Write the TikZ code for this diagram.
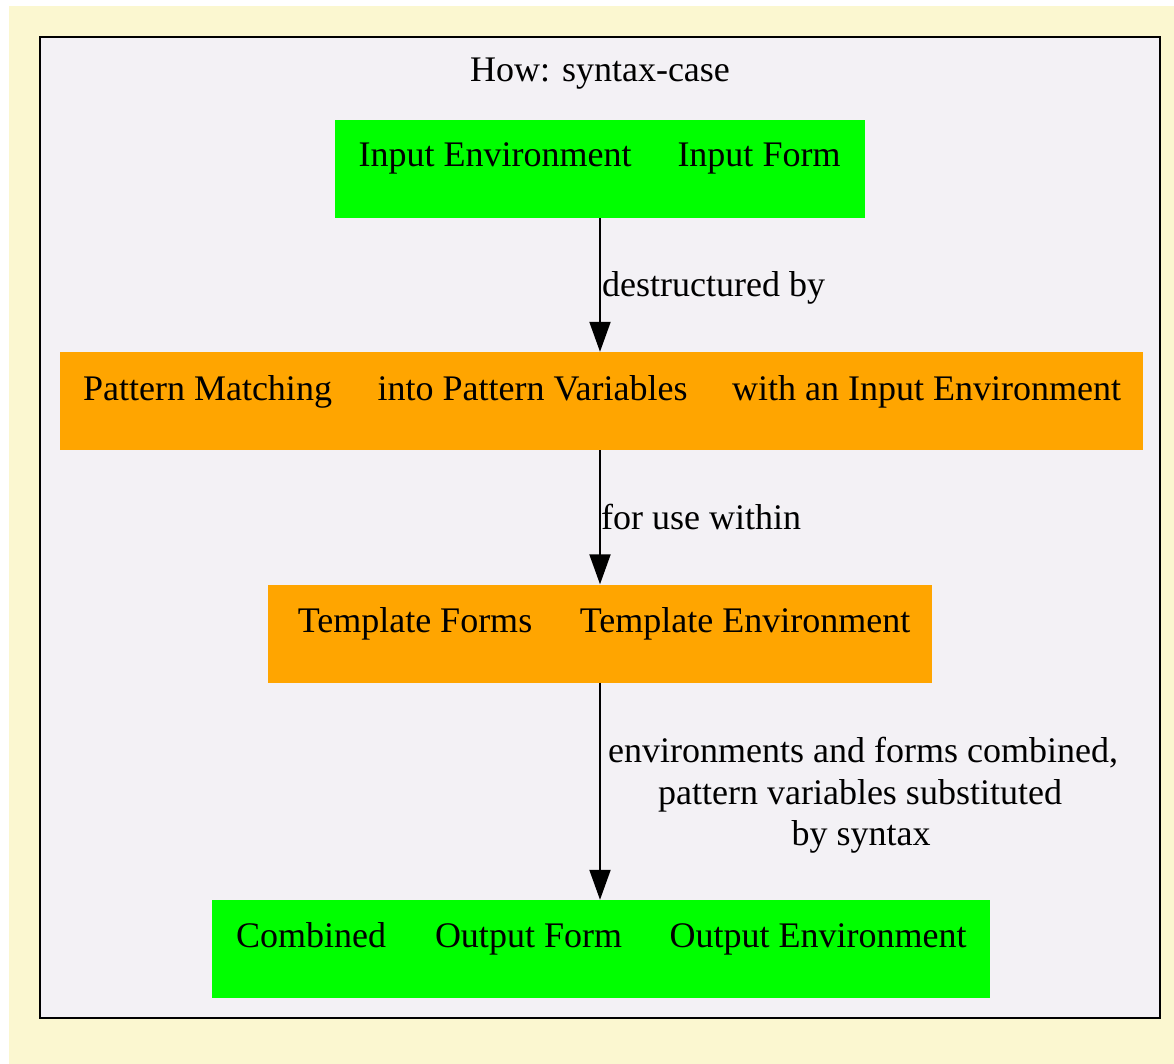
\documentclass[tikz,border=0pt]{standalone}
\usepackage{fontspec}
\setmainfont{Liberation Serif}
\usetikzlibrary{arrows.meta}
\definecolor{paper}{HTML}{FBF7D0}
\definecolor{clusterbg}{HTML}{F3F1F5}
\definecolor{boxgreen}{HTML}{00FF00}
\definecolor{boxorange}{HTML}{FFA500}
\begin{document}
\begin{tikzpicture}[x=1pt,y=-1pt,
  every node/.style={font=\fontsize{36}{43}\selectfont, inner sep=0pt},
  greenbox/.style={fill=boxgreen, minimum height=98pt},
  orangebox/.style={fill=boxorange, minimum height=98pt},
  part/.style={anchor=base},
  flow/.style={line width=2pt, -{Triangle[length=30pt,width=21pt]}}]
\useasboundingbox (0,0) rectangle (1174,1064);
\fill [white] (0,0) rectangle (1174,1064);
\fill [paper] (9,6) rectangle (1174,1064);
%cluster
\draw [fill=clusterbg, line width=2pt] (40,37) rectangle (1160,1018);
\node [part] (title) at (600,82) {How: syntax-case};

%boxes
\node [greenbox, minimum width=530pt] (input) at (600,169) {};
\node [orangebox, minimum width=1083pt] (match) at (601.5,401) {};
\node [orangebox, minimum width=664pt] (template) at (600,633.5) {};
\node [greenbox, minimum width=778pt] (output) at (601,949) {};

%texts in the boxes
\node [part] (inenv) at (495,167) {Input Environment};
\node [part] (inform) at (759,167) {Input Form};
\node [part] (pm) at (207.5,400) {Pattern Matching};
\node [part] (pv) at (532.5,400) {into Pattern Variables};
\node [part] (ie) at (926.5,400) {with an Input Environment};
\node [part] (tf) at (415,632) {Template Forms};
\node [part] (te) at (745,632) {Template Environment};
\node [part] (comb) at (311,947) {Combined};
\node [part] (oform) at (528.5,947) {Output Form};
\node [part] (oenv) at (818,947) {Output Environment};

%edges
\draw [flow] (input.south) -- (input.south |- match.north);
\draw [flow] (input.south |- match.south) -- (input.south |- template.north);
\draw [flow] (template.south) -- (template.south |- output.north);
\node [part, anchor=base west] (l1) at (602,297) {destructured by};
\node [part, anchor=base west] (l2) at (601,529) {for use within};
\node [part, anchor=base] (l3a) at (863,762) {environments and forms combined,};
\node [part, anchor=base] (l3b) at (860,804) {pattern variables substituted};
\node [part, anchor=base] (l3c) at (861,845) {by syntax};
\end{tikzpicture}
\end{document}
